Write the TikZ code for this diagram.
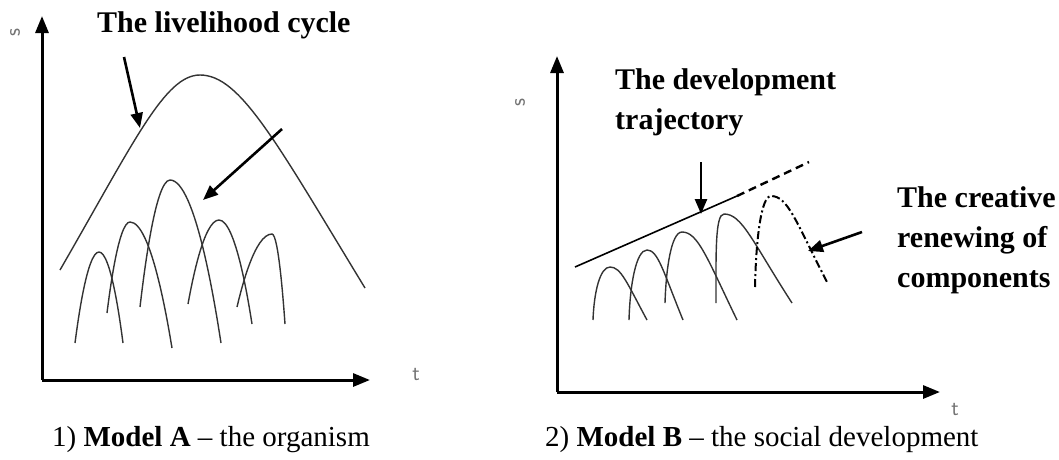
\documentclass[tikz,border=0pt]{standalone}
\usepackage{fontspec}
\setmainfont{Liberation Serif}
\usetikzlibrary{arrows.meta}
\begin{document}
\begin{tikzpicture}[x=1pt,y=-1pt,
  axis/.style={line width=3pt,-{Triangle[length=17pt,width=13pt]}},
  pointer/.style={line width=2.6pt,-{Triangle[length=15pt,width=12pt]}},
  curve/.style={line width=1.4pt,draw=black!80},
  lbl/.style={font=\fontsize{30}{40}\selectfont\bfseries,inner sep=0pt},
  axlbl/.style={font=\fontsize{22}{22}\selectfont\sffamily,text=black!55,inner sep=0pt},
  captext/.style={font=\fontsize{29}{34}\selectfont,inner sep=0pt}]
\useasboundingbox (0,0) rectangle (1059,459);
% ---------------- Model A ----------------
\coordinate (oA) at (42,380);
\coordinate (yA) at (42,16);
\coordinate (xA) at (370,380);
\draw[axis] (oA) -- (yA);
\draw[axis] (oA) -- (xA);
\node[axlbl,rotate=90] (sA) at (15,33) {s};
\node[axlbl] (tA) at (416,374) {t};
\node[lbl,anchor=west] (titleA) at (97,25) {The livelihood cycle};
% big curve
\draw[curve] (60,270) .. controls (135,140) and (165,75) .. (200,75)
  .. controls (240,75) and (275,140) .. (365,288);
% small arches
\draw[curve] (75,343) parabola bend (99,252) (123,343);
\draw[curve] (107,313) parabola bend (130,222) (172,348);
\draw[curve] (140,307) parabola bend (170,180) (221,343);
\draw[curve] (188,304) parabola bend (219,220) (252,324);
\draw[curve] (237,307) parabola bend (272,234) (285,324);
% pointers
\coordinate (a1s) at (124,57);
\coordinate (a1e) at (140,128);
\draw[pointer] (a1s) -- (a1e);
\coordinate (a2s) at (282,129);
\coordinate (a2e) at (203,200);
\draw[pointer] (a2s) -- (a2e);
\node[captext,anchor=west] (capA) at (52,440) {1)\ \textbf{Model A} -- the organism};
% ---------------- Model B ----------------
\coordinate (oB) at (557,392);
\coordinate (yB) at (557,56);
\coordinate (xB) at (940,392);
\draw[axis] (oB) -- (yB);
\draw[axis] (oB) -- (xB);
\node[axlbl,rotate=90] (sB) at (520,103) {s};
\node[axlbl] (tB) at (955,409) {t};
\node[lbl,anchor=west,align=left] (titleB) at (615,102) {The development\\trajectory};
% trajectory
\coordinate (trA) at (575,267);
\coordinate (trB) at (737,196);
\coordinate (trC) at (809,162);
\draw[line width=1.6pt] (trA) -- (trB);
\draw[line width=2.4pt,dash pattern=on 8pt off 5pt] (trB) -- (trC);
% arches
\draw[curve] (593,320) .. controls (594,292) and (600,267) .. (610,267)
  .. controls (621,267) and (627,283) .. (647,320);
\draw[curve] (629,320) .. controls (630,285) and (636,250) .. (647,250)
  .. controls (658,250) and (663,271) .. (683,320);
\draw[curve] (665,303) .. controls (666,270) and (671,232) .. (682,232)
  .. controls (698,232) and (707,258) .. (737,320);
\draw[curve] (716,303) .. controls (716,255) and (715,214) .. (724,214)
  .. controls (742,214) and (752,241) .. (792,303);
\draw[line width=2pt,dash pattern=on 8pt off 3pt on 2pt off 3pt]
  (755,287) .. controls (756,240) and (761,196) .. (771,196)
  .. controls (788,196) and (796,222) .. (827,282);
% pointers
\coordinate (b1s) at (701,162);
\coordinate (b1e) at (701,214);
\draw[pointer] (b1s) -- (b1e);
\coordinate (b2s) at (862,232);
\coordinate (b2e) at (808,251);
\draw[pointer] (b2s) -- (b2e);
\node[lbl,anchor=west,align=left] (titleC) at (897,240) {The creative\\renewing of\\components};
\node[captext,anchor=west] (capB) at (545,440) {2)\ \textbf{Model B} -- the social development};
\end{tikzpicture}
\end{document}
